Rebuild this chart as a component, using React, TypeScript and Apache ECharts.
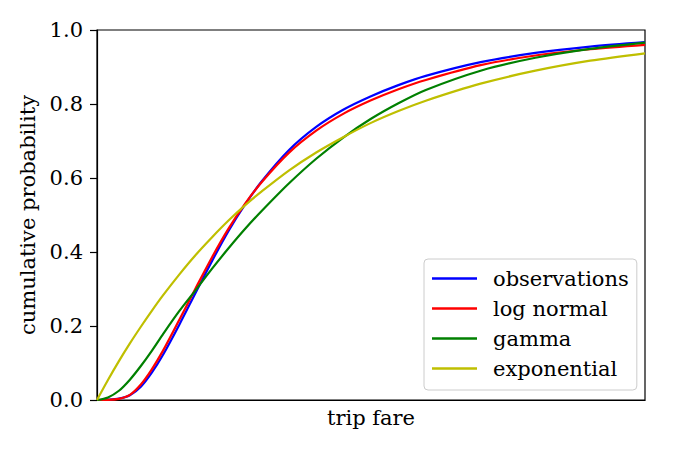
import React, { useEffect, useRef } from "react";
import * as echarts from "echarts";

const fares = [0, 2, 4, 6, 8, 10, 12, 15, 18, 21, 24, 27, 30, 35, 40, 45, 50, 55, 60, 70, 80, 90, 100];
const observations = [0, 0.001, 0.004, 0.013, 0.036, 0.074, 0.121, 0.203, 0.29, 0.376, 0.457, 0.528, 0.59, 0.675, 0.738, 0.785, 0.821, 0.851, 0.876, 0.913, 0.938, 0.955, 0.967];
const logNormal = [0, 0.0003, 0.003, 0.014, 0.042, 0.083, 0.132, 0.216, 0.302, 0.386, 0.463, 0.53, 0.588, 0.668, 0.728, 0.774, 0.81, 0.84, 0.865, 0.905, 0.931, 0.948, 0.96];
const gamma = [0, 0.007, 0.025, 0.055, 0.092, 0.133, 0.177, 0.24, 0.297, 0.355, 0.41, 0.462, 0.51, 0.585, 0.652, 0.71, 0.76, 0.802, 0.838, 0.89, 0.925, 0.949, 0.966];
const exponential = [0, 0.054, 0.105, 0.153, 0.198, 0.241, 0.282, 0.339, 0.392, 0.44, 0.485, 0.526, 0.563, 0.62, 0.669, 0.711, 0.749, 0.781, 0.809, 0.855, 0.89, 0.917, 0.937];
const yTicks = [0, 0.2, 0.4, 0.6, 0.8, 1.0];

const seriesDefs = [
  { name: "observations", values: observations, color: "#0000ff" },
  { name: "log normal", values: logNormal, color: "#ff0000" },
  { name: "gamma", values: gamma, color: "#008000" },
  { name: "exponential", values: exponential, color: "#bfbf00" },
];

const FONT = "DejaVu Serif";
const FS = 21;

export default function App() {
  const ref = useRef<HTMLDivElement>(null);
  useEffect(() => {
    if (!ref.current) return;
    const chart = echarts.init(ref.current, undefined, { renderer: "svg" });
    chart.setOption({
      animation: false,
      backgroundColor: "#ffffff",
      grid: {
        left: 97,
        right: 30,
        top: 30,
        bottom: 50,
        show: true,
        borderColor: "#000",
        borderWidth: 1.2,
        backgroundColor: "transparent",
      },
      legend: {
        data: seriesDefs.map((s) => ({ name: s.name, icon: "rect" })),
        orient: "vertical",
        left: 424,
        top: 259,
        padding: [9, 8, 11, 8],
        itemWidth: 45,
        itemHeight: 2.5,
        itemGap: 9,
        borderColor: "#cccccc",
        borderWidth: 1,
        borderRadius: 4,
        backgroundColor: "rgba(255,255,255,0.8)",
        textStyle: {
          fontFamily: FONT,
          fontSize: FS,
          color: "#000",
          padding: [0, 0, 0, 11],
        },
      },
      xAxis: {
        type: "value",
        min: fares[0],
        max: fares[fares.length - 1],
        name: "trip fare",
        nameLocation: "middle",
        nameGap: 7,
        nameTextStyle: { fontFamily: FONT, fontSize: FS, color: "#000", verticalAlign: "top" },
        axisLine: { show: true, lineStyle: { color: "#000", width: 1.2 } },
        axisTick: { show: false },
        axisLabel: { show: false },
        splitLine: { show: false },
      },
      yAxis: {
        type: "value",
        min: yTicks[0],
        max: yTicks[yTicks.length - 1],
        interval: 0.2,
        name: "cumulative probability",
        nameLocation: "middle",
        nameGap: 54,
        nameRotate: 90,
        nameTextStyle: { fontFamily: FONT, fontSize: FS, color: "#000" },
        axisLine: { show: true, lineStyle: { color: "#000", width: 1.2 } },
        axisTick: { show: true, length: 7, lineStyle: { color: "#000", width: 1.2 } },
        axisLabel: {
          fontFamily: FONT,
          fontSize: FS,
          color: "#000",
          margin: 14,
          formatter: (v: number) => v.toFixed(1),
        },
        splitLine: { show: false },
      },
      series: seriesDefs.map((s) => ({
        name: s.name,
        type: "line",
        symbol: "none",
        smooth: 0.3,
        data: fares.map((f, i) => [f, s.values[i]]),
        lineStyle: { color: s.color, width: 2.2 },
        itemStyle: { color: s.color },
      })),
    });
    return () => chart.dispose();
  }, []);
  return <div ref={ref} style={{ width: 675, height: 450, position: "absolute", left: 0, top: 0 }} />;
}
